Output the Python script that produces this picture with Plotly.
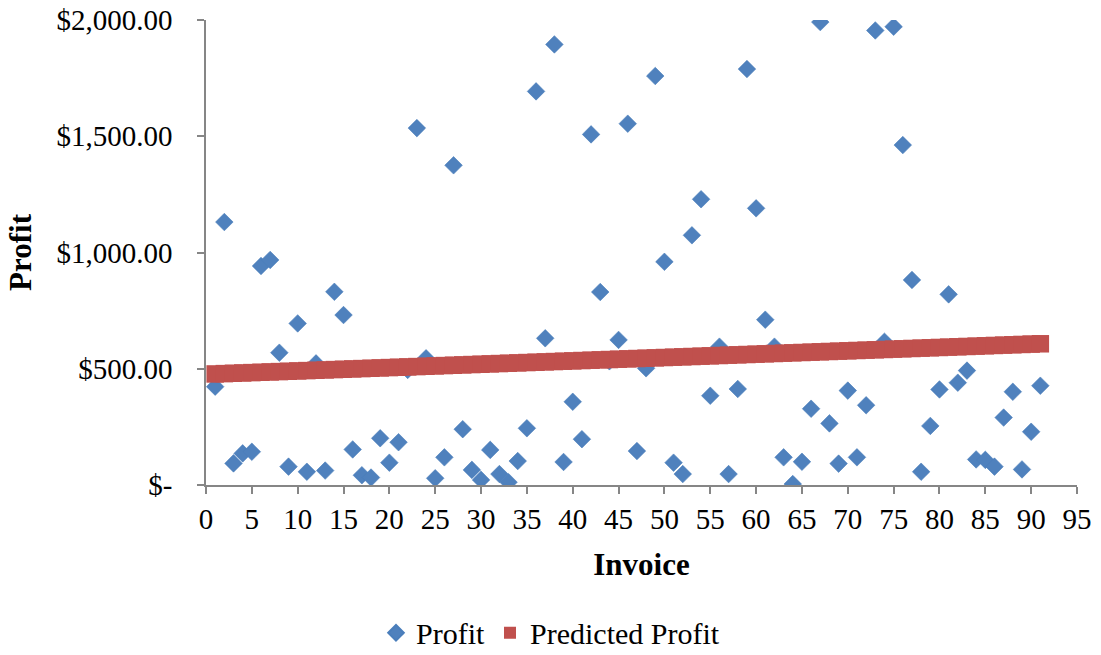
import numpy as np
import plotly.graph_objects as go

# Invoice numbers and the profit recorded on each one
invoice = list(range(1, 92))
profit = [
    423, 1131, 93, 136, 143, 942, 968, 569, 79, 695,
    57, 523, 62, 831, 731, 153, 42, 32, 201, 96,
    184, 495, 1535, 545, 29, 119, 1375, 240, 65, 22,
    151, 47, 12, 103, 244, 1693, 631, 1895, 99, 358,
    197, 1508, 830, 532, 624, 1554, 146, 502, 1759, 960,
    96, 47, 1074, 1229, 384, 595, 47, 413, 1789, 1190,
    711, 595, 119, 4, 100, 328, 1991, 265, 92, 406,
    119, 343, 1955, 616, 1971, 1462, 882, 57, 254, 411,
    820, 440, 492, 110, 108, 79, 290, 401, 67, 229,
    427,
]

# Axis ticks
x_ticks = list(range(0, 100, 5))
y_tick_vals = [0, 500, 1000, 1500, 2000]
y_tick_text = ["$-", "$500.00", "$1,000.00", "$1,500.00", "$2,000.00"]

# Predicted profit: least-squares linear fit of profit against invoice number
slope, intercept = np.polyfit(invoice, profit, 1)
predicted = [intercept + slope * n for n in invoice]

FONT = "Liberation Serif, Times New Roman, serif"
AXIS_GREY = "#868686"

fig = go.Figure()
fig.add_trace(go.Scatter(
    x=invoice, y=profit, mode="markers", name="Profit",
    marker=dict(symbol="diamond", size=13.5, color="#4F81BD",
                line=dict(width=0.6, color="#4A7EBB")),
))
fig.add_trace(go.Scatter(
    x=invoice, y=predicted, mode="markers", name="Predicted Profit",
    marker=dict(symbol="square", size=17.5, color="#C0504D",
                line=dict(width=0)),
))

fig.update_layout(
    width=1101, height=655,
    margin=dict(l=206, r=24, t=20, b=170, autoexpand=False),
    paper_bgcolor="white", plot_bgcolor="white",
    font=dict(family=FONT, size=29, color="black"),
    showlegend=True,
    legend=dict(
        orientation="h", xref="container", yref="container",
        x=0.5, xanchor="center", y=0.034, yanchor="middle",
        font=dict(family=FONT, size=30, color="black"),
        itemsizing="constant", tracegroupgap=0, itemwidth=30,
    ),
    xaxis=dict(
        range=[0, 95], tickmode="array", tickvals=x_ticks,
        showgrid=False, zeroline=False, automargin=False,
        showline=True, linecolor=AXIS_GREY, linewidth=1.5,
        ticks="outside", ticklen=7, tickcolor=AXIS_GREY, tickwidth=1.5,
        tickfont=dict(family=FONT, size=29),
        title=dict(text="<b>Invoice</b>", font=dict(family=FONT, size=31),
                   standoff=20),
    ),
    yaxis=dict(
        range=[0, 2000], tickmode="array", tickvals=y_tick_vals,
        ticktext=y_tick_text,
        showgrid=False, zeroline=False, automargin=False,
        showline=True, linecolor=AXIS_GREY, linewidth=1.5,
        ticks="outside", ticklen=7, tickcolor=AXIS_GREY, tickwidth=1.5,
        tickfont=dict(family=FONT, size=29),
        ticklabelstandoff=19,
        title=dict(text="<b>Profit</b>", font=dict(family=FONT, size=31),
                   standoff=16),
    ),
)

fig.write_html("out.html")
